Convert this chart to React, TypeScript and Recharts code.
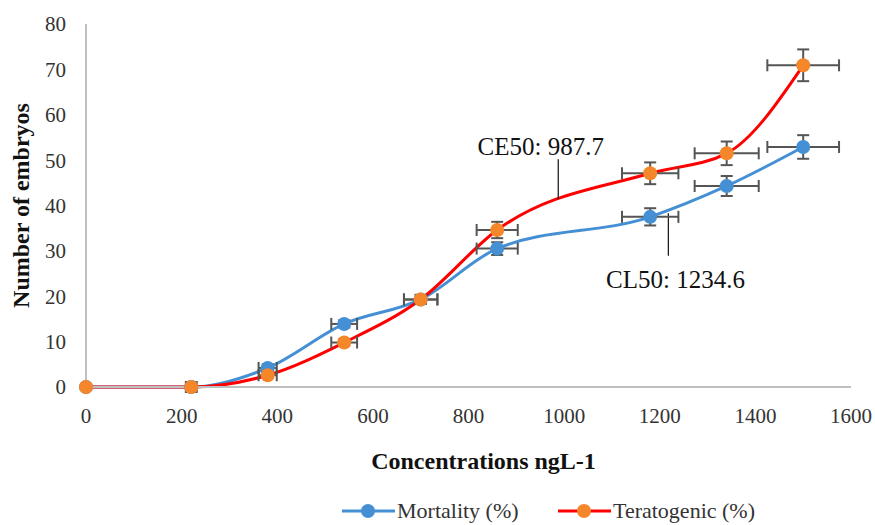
import {
  ComposedChart,
  Line,
  Scatter,
  XAxis,
  YAxis,
  ErrorBar,
  ReferenceLine,
  ReferenceDot,
  Legend,
} from "recharts";

const concentrations = [0, 220, 380, 540, 700, 860, 1180, 1340, 1500];
const mortality = [0, 0, 4.2, 13.9, 19.3, 30.5, 37.5, 44.3, 52.9];
const teratogenic = [0, 0, 2.6, 9.8, 19.3, 34.6, 47.1, 51.5, 70.9];
const concentrationError = [0, 11, 19, 27, 35, 43, 59, 67, 75];
const mortalityError = [0, 0, 0.8, 0.8, 1, 1.4, 1.9, 2.2, 2.6];
const teratogenicError = [0, 0, 0.6, 0.7, 1, 1.8, 2.4, 2.6, 3.5];

const xTicks = [0, 200, 400, 600, 800, 1000, 1200, 1400, 1600];
const yTicks = [0, 10, 20, 30, 40, 50, 60, 70, 80];

// leader line from the text down to the curve
const ce50Text = "CE50: 987.7";
const ce50Label = [951, 53.1];
const ce50Leader = [987.7, 50.2, 41.4];
const cl50Text = "CL50: 1234.6";
const cl50Label = [1233, 23.8];
const cl50Leader = [1218, 38.3, 28.9];

const BLUE = "#4590d5";
const ORANGE = "#f5862a";
const RED = "#ff0000";
const FONT = "'Liberation Serif', 'Times New Roman', serif";

const data = concentrations.map((c, i) => ({
  conc: c,
  mortality: mortality[i],
  teratogenic: teratogenic[i],
  concErr: concentrationError[i],
  mortErr: mortalityError[i],
  teraErr: teratogenicError[i],
}));

const marker = (color: string) => (props: any) =>
  <circle cx={props.cx} cy={props.cy} r={7} fill={color} />;
const noMarker = () => <g />;

const legendItems = [
  { name: "Mortality (%)", line: BLUE, dot: BLUE, x: 342 },
  { name: "Teratogenic (%)", line: RED, dot: ORANGE, x: 558 },
];

export default function App() {
  return (
    <div style={{ position: "absolute", left: 0, top: 0, width: 875, height: 525, background: "#fff", fontFamily: FONT }}>
      <ComposedChart
        width={875}
        height={525}
        data={data}
        margin={{ top: 24, right: 24, bottom: 88, left: 0 }}
      >
        <XAxis
          type="number"
          dataKey="conc"
          domain={[0, 1600]}
          ticks={xTicks}
          height={50}
          axisLine={{ stroke: "#bfbfbf", strokeWidth: 2 }}
          tickLine={false}
          tickSize={0}
          tickMargin={21}
          tick={{ fontSize: 21, fill: "#333", fontFamily: FONT }}
          label={{
            content: (p: any) => {
              const vb = p.viewBox;
              return (
                <text
                  x={vb.x + vb.width / 2 + 15}
                  y={461}
                  textAnchor="middle"
                  dominantBaseline="central"
                  fontSize={24}
                  fontWeight="bold"
                  fontFamily={FONT}
                  fill="#111"
                >
                  Concentrations ngL-1
                </text>
              );
            },
          }}
        />
        <YAxis
          type="number"
          domain={[0, 80]}
          ticks={yTicks}
          width={86}
          axisLine={{ stroke: "#bfbfbf", strokeWidth: 2 }}
          tickLine={false}
          tickSize={0}
          tickMargin={20}
          tick={{ fontSize: 21, fill: "#333", fontFamily: FONT }}
          label={{
            content: (p: any) => {
              const vb = p.viewBox;
              const cy = vb.y + vb.height / 2;
              return (
                <text
                  x={21}
                  y={cy}
                  transform={`rotate(-90, 21, ${cy})`}
                  textAnchor="middle"
                  dominantBaseline="central"
                  fontSize={24}
                  fontWeight="bold"
                  fontFamily={FONT}
                  fill="#111"
                >
                  Number of embryos
                </text>
              );
            },
          }}
        />
        <Legend
          layout="horizontal"
          align="center"
          verticalAlign="middle"
          wrapperStyle={{ top: 496, left: 0, width: 875, height: 29 }}
          content={() => (
            <svg width={875} height={29} style={{ display: "block" }}>
              {legendItems.map((it) => (
                <g key={it.name}>
                  <line x1={it.x} x2={it.x + 53} y1={15} y2={15} stroke={it.line} strokeWidth={3} />
                  <circle cx={it.x + 26} cy={15} r={7} fill={it.dot} />
                  <text x={it.x + 55} y={22} fontSize={22} fontFamily={FONT} fill="#333">
                    {it.name}
                  </text>
                </g>
              ))}
            </svg>
          )}
        />
        <Line
          type="monotone"
          dataKey="mortality"
          stroke={BLUE}
          strokeWidth={3}
          dot={false}
          isAnimationActive={false}
        />
        <Line
          type="monotone"
          dataKey="teratogenic"
          stroke={RED}
          strokeWidth={3}
          dot={false}
          isAnimationActive={false}
        />
        <ReferenceLine
          segment={[
            { x: ce50Leader[0], y: ce50Leader[1] },
            { x: ce50Leader[0], y: ce50Leader[2] },
          ]}
          stroke="#111"
          strokeWidth={1.2}
        />
        <ReferenceLine
          segment={[
            { x: cl50Leader[0], y: cl50Leader[1] },
            { x: cl50Leader[0], y: cl50Leader[2] },
          ]}
          stroke="#111"
          strokeWidth={1.2}
        />
        {/* error bars first so the markers sit on top of them */}
        <Scatter dataKey="mortality" shape={noMarker} isAnimationActive={false} legendType="none">
          <ErrorBar dataKey="concErr" direction="x" width={6} stroke="#555" strokeWidth={2} />
          <ErrorBar dataKey="mortErr" direction="y" width={6} stroke="#555" strokeWidth={2} />
        </Scatter>
        <Scatter dataKey="teratogenic" shape={noMarker} isAnimationActive={false} legendType="none">
          <ErrorBar dataKey="concErr" direction="x" width={6} stroke="#555" strokeWidth={2} />
          <ErrorBar dataKey="teraErr" direction="y" width={6} stroke="#555" strokeWidth={2} />
        </Scatter>
        <Scatter dataKey="mortality" shape={marker(BLUE)} isAnimationActive={false} />
        <Scatter dataKey="teratogenic" shape={marker(ORANGE)} isAnimationActive={false} />
        <ReferenceDot
          x={ce50Label[0]}
          y={ce50Label[1]}
          r={0}
          fill="none"
          stroke="none"
          label={{ value: ce50Text, position: "center", fontSize: 25, fill: "#111", fontFamily: FONT }}
        />
        <ReferenceDot
          x={cl50Label[0]}
          y={cl50Label[1]}
          r={0}
          fill="none"
          stroke="none"
          label={{ value: cl50Text, position: "center", fontSize: 25, fill: "#111", fontFamily: FONT }}
        />
      </ComposedChart>
    </div>
  );
}
